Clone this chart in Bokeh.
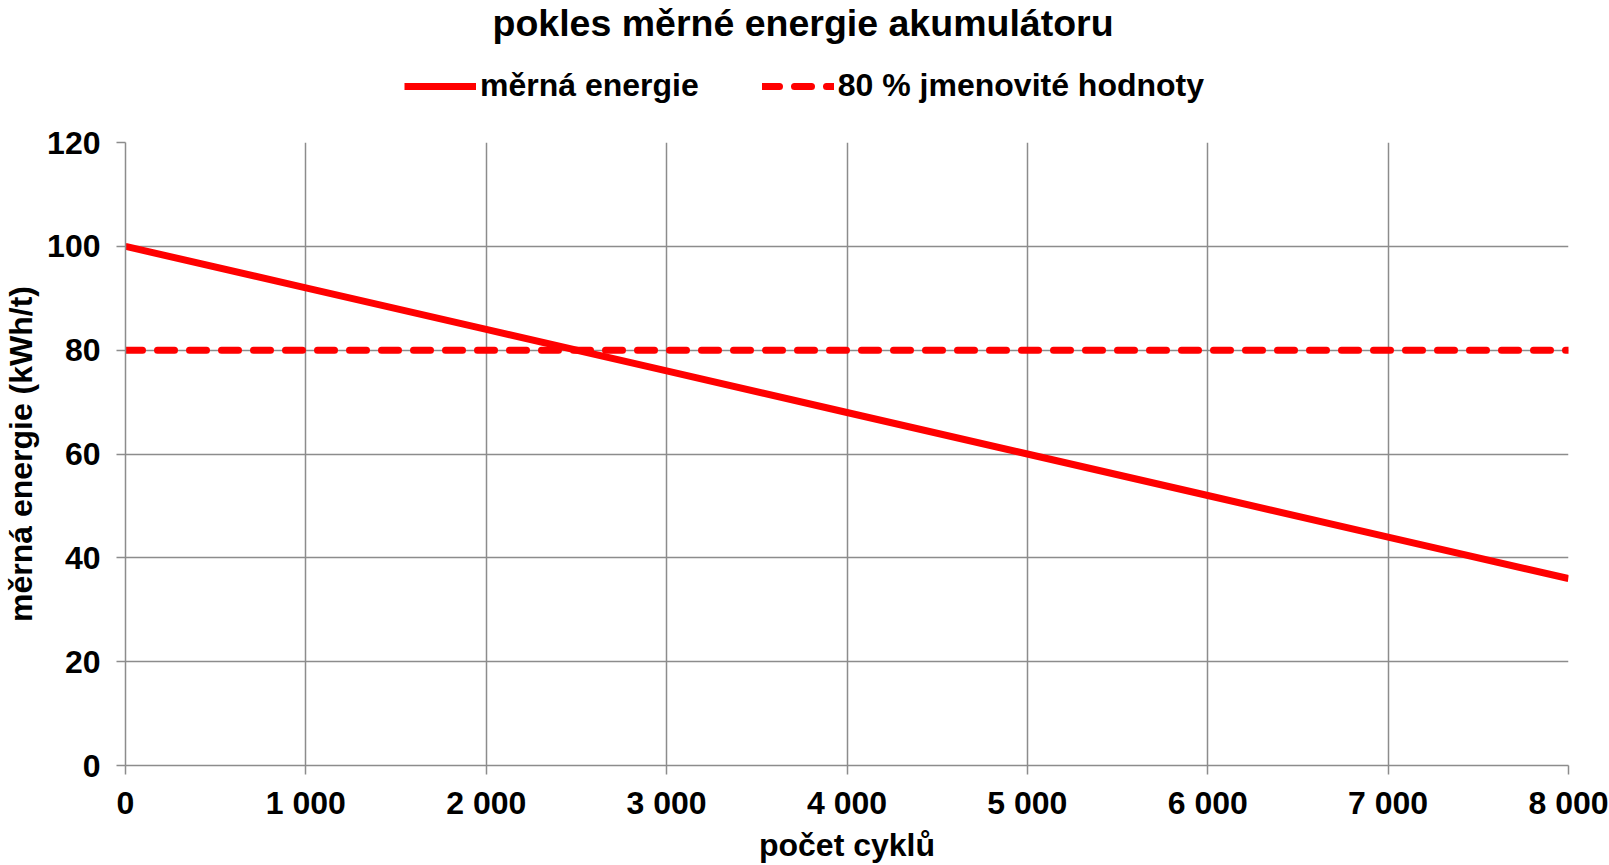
from bokeh.plotting import figure
from bokeh.layouts import column
from bokeh.models import Range1d, Legend, LegendItem, FixedTicker, Label
from bokeh.embed import file_html
from bokeh.resources import INLINE

# Battery specific energy versus number of charge cycles
cycles = [0, 1000, 2000, 3000, 4000, 5000, 6000, 7000, 8000]
specific_energy = [100, 92, 84, 76, 68, 60, 52, 44, 36]
nominal_80 = [80, 80, 80, 80, 80, 80, 80, 80, 80]

x_ticks = [0, 1000, 2000, 3000, 4000, 5000, 6000, 7000, 8000]
x_tick_labels = ["0", "1 000", "2 000", "3 000", "4 000", "5 000", "6 000", "7 000", "8 000"]
y_ticks = [0, 20, 40, 60, 80, 100, 120]

title_text = "pokles měrné energie akumulátoru"
series_names = ["měrná energie", "80 % jmenovité hodnoty"]

FONT = "Liberation Sans"
GRID = "#8c8c8c"
RED = "#ff0000"
W = 1609
HEAD_H = 110
MAIN_H = 865 - HEAD_H
BORDER_L = 124
BORDER_R = 41

solid_style = dict(line_color=RED, line_width=7)
dashed_style = dict(line_color=RED, line_width=7, line_dash="17 15", line_cap="round")

# ---- header strip: title and legend; ranges are in page pixels ----
head = figure(
    width=W, height=HEAD_H,
    x_range=Range1d(BORDER_L, W - BORDER_R), y_range=Range1d(0, HEAD_H),
    x_axis_location=None, y_axis_location=None, title_location=None,
    output_backend="svg", toolbar_location=None,
    min_border_left=BORDER_L, min_border_right=BORDER_R,
    min_border_top=0, min_border_bottom=0,
)
head.outline_line_color = None
head.grid.visible = False

head.add_layout(Label(
    x=802, y=HEAD_H - 22, text=title_text,
    text_align="center", text_baseline="alphabetic",
    text_font=FONT, text_font_style="bold", text_font_size="37.5px",
    text_color="black",
))

# legend keys: the same series on a range that keeps them out of the strip
head.extra_y_ranges = {"keys": Range1d(1000, 2000)}
key_solid = head.line(cycles, specific_energy, y_range_name="keys", **solid_style)
key_dashed = head.line(cycles, nominal_80, y_range_name="keys", **dashed_style)

legend = Legend(
    items=[
        LegendItem(label=series_names[0], renderers=[key_solid]),
        LegendItem(label=series_names[1], renderers=[key_dashed]),
    ],
    orientation="horizontal",
    location=(403 - BORDER_L, 6),
    glyph_width=72, glyph_height=30,
    label_standoff=4, spacing=63,
    padding=0, margin=0,
    border_line_color=None, background_fill_alpha=0,
    label_text_font=FONT, label_text_font_style="bold",
    label_text_font_size="32px", label_text_color="black",
)
head.add_layout(legend, "center")

# ---- main chart ----
p = figure(
    width=W, height=MAIN_H,
    x_range=Range1d(0, 8000), y_range=Range1d(0, 120),
    output_backend="svg", toolbar_location=None,
    min_border_left=BORDER_L, min_border_right=BORDER_R,
    min_border_bottom=100, min_border_top=32,
)
p.outline_line_color = None

for ax in (p.xaxis[0], p.yaxis[0]):
    ax.axis_line_color = GRID
    ax.axis_line_width = 1.5
    ax.major_tick_line_color = GRID
    ax.major_tick_line_width = 1.5
    ax.major_tick_out = 9
    ax.major_tick_in = 0
    ax.minor_tick_out = 0
    ax.minor_tick_in = 0
    ax.major_label_text_font = FONT
    ax.major_label_text_font_style = "bold"
    ax.major_label_text_font_size = "32px"
    ax.major_label_text_color = "black"
    ax.axis_label_text_font = FONT
    ax.axis_label_text_font_style = "bold"
    ax.axis_label_text_font_size = "32px"
    ax.axis_label_text_color = "black"

p.xaxis.ticker = FixedTicker(ticks=x_ticks)
p.xaxis.major_label_overrides = {t: s for t, s in zip(x_ticks, x_tick_labels)}
p.xaxis.major_label_standoff = 10
p.xaxis.axis_label = "počet cyklů"
p.xaxis.axis_label_standoff = 3

p.yaxis.ticker = FixedTicker(ticks=y_ticks)
p.yaxis.major_label_standoff = 16
p.yaxis.axis_label = "měrná energie (kWh/t)"
p.yaxis.axis_label_standoff = 5

p.xgrid.ticker = FixedTicker(ticks=x_ticks)
p.ygrid.ticker = FixedTicker(ticks=y_ticks)
for g in (p.xgrid[0], p.ygrid[0]):
    g.grid_line_color = GRID
    g.grid_line_width = 1.5

p.line(cycles, specific_energy, **solid_style)
p.line(cycles, nominal_80, **dashed_style)

layout = column(head, p, spacing=0)
open("out.html", "w").write(file_html(layout, INLINE))
